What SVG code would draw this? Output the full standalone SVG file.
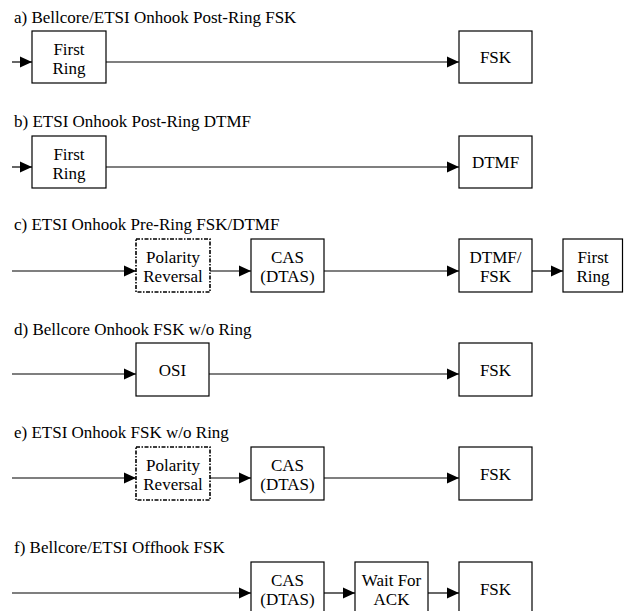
<svg xmlns="http://www.w3.org/2000/svg" width="624" height="611" viewBox="0 0 624 611">
<defs>
<marker id="ah" viewBox="0 0 12 12" refX="12" refY="6" markerWidth="12" markerHeight="12" markerUnits="userSpaceOnUse" orient="auto">
<path d="M0,0.5 L12,6 L0,11.5 Z" fill="#000"/>
</marker>
<style>
text{font-family:'Liberation Serif','Times New Roman',Times,serif;font-size:17px;fill:#000}
.c{text-anchor:middle}
.b{fill:#fff;stroke:#000;stroke-width:1.2}
.d{fill:#fff;stroke:#000;stroke-width:1.6;stroke-dasharray:4 1.5 1.5 1.5}
.l{fill:none;stroke:#000;stroke-width:1.2;marker-end:url(#ah)}
</style>
</defs>
<g id="titles">
<text x="14" y="23">a) Bellcore/ETSI Onhook Post-Ring FSK</text>
<text x="14" y="127">b) ETSI Onhook Post-Ring DTMF</text>
<text x="14" y="230">c) ETSI Onhook Pre-Ring FSK/DTMF</text>
<text x="14" y="335">d) Bellcore Onhook FSK w/o Ring</text>
<text x="14" y="438">e) ETSI Onhook FSK w/o Ring</text>
<text x="14" y="553">f) Bellcore/ETSI Offhook FSK</text>
</g>
<g id="connectors">
<path class="l" d="M12,62 H32"/>
<path class="l" d="M106,62 H459"/>
<path class="l" d="M12,167 H32"/>
<path class="l" d="M106,167 H459"/>
<path class="l" d="M12,271 H136"/>
<path class="l" d="M210,271 H251"/>
<path class="l" d="M324,271 H459"/>
<path class="l" d="M532,271 H563"/>
<path class="l" d="M12,374 H136"/>
<path class="l" d="M209,374 H459"/>
<path class="l" d="M12,478 H136"/>
<path class="l" d="M210,478 H251"/>
<path class="l" d="M324,478 H459"/>
<path class="l" d="M12,593 H251"/>
<path class="l" d="M324,593 H355"/>
<path class="l" d="M428,593 H459"/>
</g>
<g id="a_ring"><rect class="b" x="32" y="31" width="74" height="52"/><text class="c" x="69" y="55">First</text><text class="c" x="69" y="74">Ring</text></g>
<g id="a_fsk"><rect class="b" x="459" y="31" width="73" height="52"/><text class="c" x="495.5" y="63">FSK</text></g>
<g id="b_ring"><rect class="b" x="32" y="136" width="74" height="52"/><text class="c" x="69" y="160">First</text><text class="c" x="69" y="179">Ring</text></g>
<g id="b_dtmf"><rect class="b" x="459" y="136" width="73" height="52"/><text class="c" x="495.5" y="168">DTMF</text></g>
<g id="c_pol"><rect class="d" x="136" y="239" width="74" height="53"/><text class="c" x="173" y="263">Polarity</text><text class="c" x="173" y="282">Reversal</text></g>
<g id="c_cas"><rect class="b" x="251" y="239" width="73" height="53"/><text class="c" x="287.5" y="263">CAS</text><text class="c" x="287.5" y="282">(DTAS)</text></g>
<g id="c_dtmf"><rect class="b" x="459" y="239" width="73" height="53"/><text class="c" x="495.5" y="263">DTMF/</text><text class="c" x="495.5" y="282">FSK</text></g>
<g id="c_ring"><rect class="b" x="563" y="239" width="59.5" height="53"/><text class="c" x="593" y="263">First</text><text class="c" x="593" y="282">Ring</text></g>
<g id="d_osi"><rect class="b" x="136" y="343" width="73" height="53"/><text class="c" x="172.5" y="376">OSI</text></g>
<g id="d_fsk"><rect class="b" x="459" y="343" width="73" height="53"/><text class="c" x="495.5" y="376">FSK</text></g>
<g id="e_pol"><rect class="d" x="136" y="447" width="74" height="53"/><text class="c" x="173" y="471">Polarity</text><text class="c" x="173" y="490">Reversal</text></g>
<g id="e_cas"><rect class="b" x="251" y="447" width="73" height="53"/><text class="c" x="287.5" y="471">CAS</text><text class="c" x="287.5" y="490">(DTAS)</text></g>
<g id="e_fsk"><rect class="b" x="459" y="447" width="73" height="53"/><text class="c" x="495.5" y="480">FSK</text></g>
<g id="f_cas"><rect class="b" x="251" y="562" width="73" height="53"/><text class="c" x="287.5" y="586">CAS</text><text class="c" x="287.5" y="605">(DTAS)</text></g>
<g id="f_wait"><rect class="b" x="355" y="562" width="73" height="53"/><text class="c" x="391.5" y="586">Wait For</text><text class="c" x="391.5" y="605">ACK</text></g>
<g id="f_fsk"><rect class="b" x="459" y="562" width="73" height="53"/><text class="c" x="495.5" y="595">FSK</text></g>
</svg>
